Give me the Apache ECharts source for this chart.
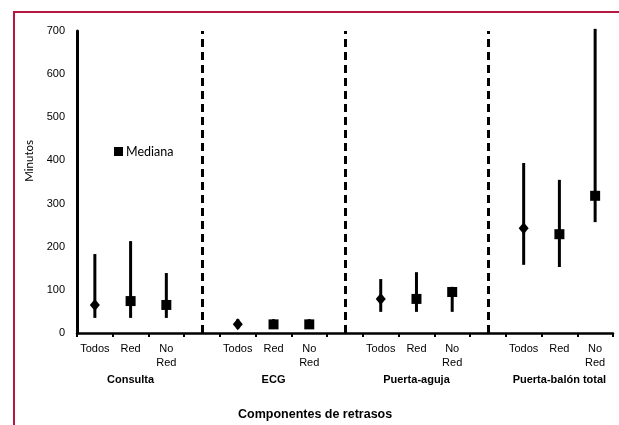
<!DOCTYPE html>
<html>
<head>
<meta charset="utf-8">
<script src="https://cdn.jsdelivr.net/npm/echarts@6/dist/echarts.min.js"></script>
<style>
html,body{margin:0;padding:0;background:#fff;}
#frame{position:absolute;left:13px;top:11px;width:620px;height:430px;border-top:2px solid #B5173F;border-left:2px solid #B5173F;}
#chart{position:absolute;left:0;top:0;width:619px;height:425px;}
</style>
</head>
<body>
<div id="frame"></div>
<div id="chart"></div>
<script>
var categories = ['Todos','Red','No\nRed','','Todos','Red','No\nRed','','Todos','Red','No\nRed','','Todos','Red','No\nRed'];
var groups = ['','Consulta','','','','ECG','','','','Puerta-aguja','','','','Puerta-balón total',''];
var medianTodos = [65,null,null,null,20,null,null,null,79,null,null,null,243,null,null];
var medianRed = [null,74,65,null,null,20,20,null,null,79,95,null,null,229,318];
var lowValues = [35,35,35,null,10,10,10,null,49,49,49,null,158,153,257];
var highValues = [183,213,139,null,32,32,32,null,125,141,107,null,394,355,705];
var separators = [3,7,11];
var yTicks = {min:0,max:700,interval:100};

var errData = [];
for (var i=0;i<categories.length;i++){
  if (lowValues[i]!=null) errData.push([i, lowValues[i], highValues[i]]);
}
var chart = echarts.init(document.getElementById('chart'));
var font = 'Liberation Sans, Arial, sans-serif';
chart.setOption({
  animation:false,
  grid:{left:77,right:6,top:31,bottom:92},
  legend:{data:['Mediana'],left:109,top:140,icon:'rect',itemWidth:9,itemHeight:9,itemGap:3,
    itemStyle:{opacity:1},
    textStyle:{fontFamily:'Lato, Open Sans, sans-serif',fontSize:12.5,color:'#000',padding:[0,0,0,-2]}},
  title:{text:'Componentes de retrasos',left:233,top:403,
    textStyle:{fontFamily:font,fontSize:12.5,fontWeight:'bold',color:'#000'}},
  graphic:[{type:'text',left:23,top:140,rotation:Math.PI/2,
    style:{text:'Minutos',fontFamily:'Lato, Open Sans, sans-serif',fontSize:11.5,fill:'#000'}}],
  xAxis:[{type:'category',data:categories,boundaryGap:true,
    axisLine:{lineStyle:{color:'#000',width:2.5}},
    axisTick:{show:true,length:4,lineStyle:{color:'#000',width:2}},
    axisLabel:{interval:0,margin:9,fontFamily:font,fontSize:11,color:'#000',lineHeight:14},
    splitLine:{show:false}},
   {type:'category',data:groups,position:'bottom',offset:0,boundaryGap:true,
    axisLine:{show:false},axisTick:{show:false},
    axisLabel:{interval:0,margin:41,fontFamily:font,fontSize:11,fontWeight:'bold',color:'#000'}}],
  yAxis:{type:'value',min:yTicks.min,max:yTicks.max,interval:yTicks.interval,
    axisLine:{show:true,lineStyle:{color:'#000',width:3}},
    axisTick:{show:false},splitLine:{show:false},
    axisLabel:{margin:12,fontFamily:font,fontSize:11,color:'#000'}},
  series:[
    {type:'custom',name:'err',clip:false,data:errData,z:2,
     renderItem:function(params,api){
       var x=api.value(0);
       var p1=api.coord([x,api.value(1)]);
       var p2=api.coord([x,api.value(2)]);
       return {type:'line',shape:{x1:p1[0],y1:p1[1],x2:p2[0],y2:p2[1]},
         style:{stroke:'#000',lineWidth:3}};
     },
     markLine:{silent:true,symbol:'none',label:{show:false},
       lineStyle:{color:'#000',type:[8,5],width:3,opacity:1},
       data:separators.map(function(s){return {xAxis:s};})}},
    {type:'scatter',name:'Todos',data:medianTodos,symbol:'diamond',symbolSize:[10,12],
     itemStyle:{color:'#000',opacity:1},z:3},
    {type:'scatter',name:'Mediana',data:medianRed,symbol:'rect',symbolSize:10,
     itemStyle:{color:'#000',opacity:1},z:3}
  ]
});
</script>
</body>
</html>
